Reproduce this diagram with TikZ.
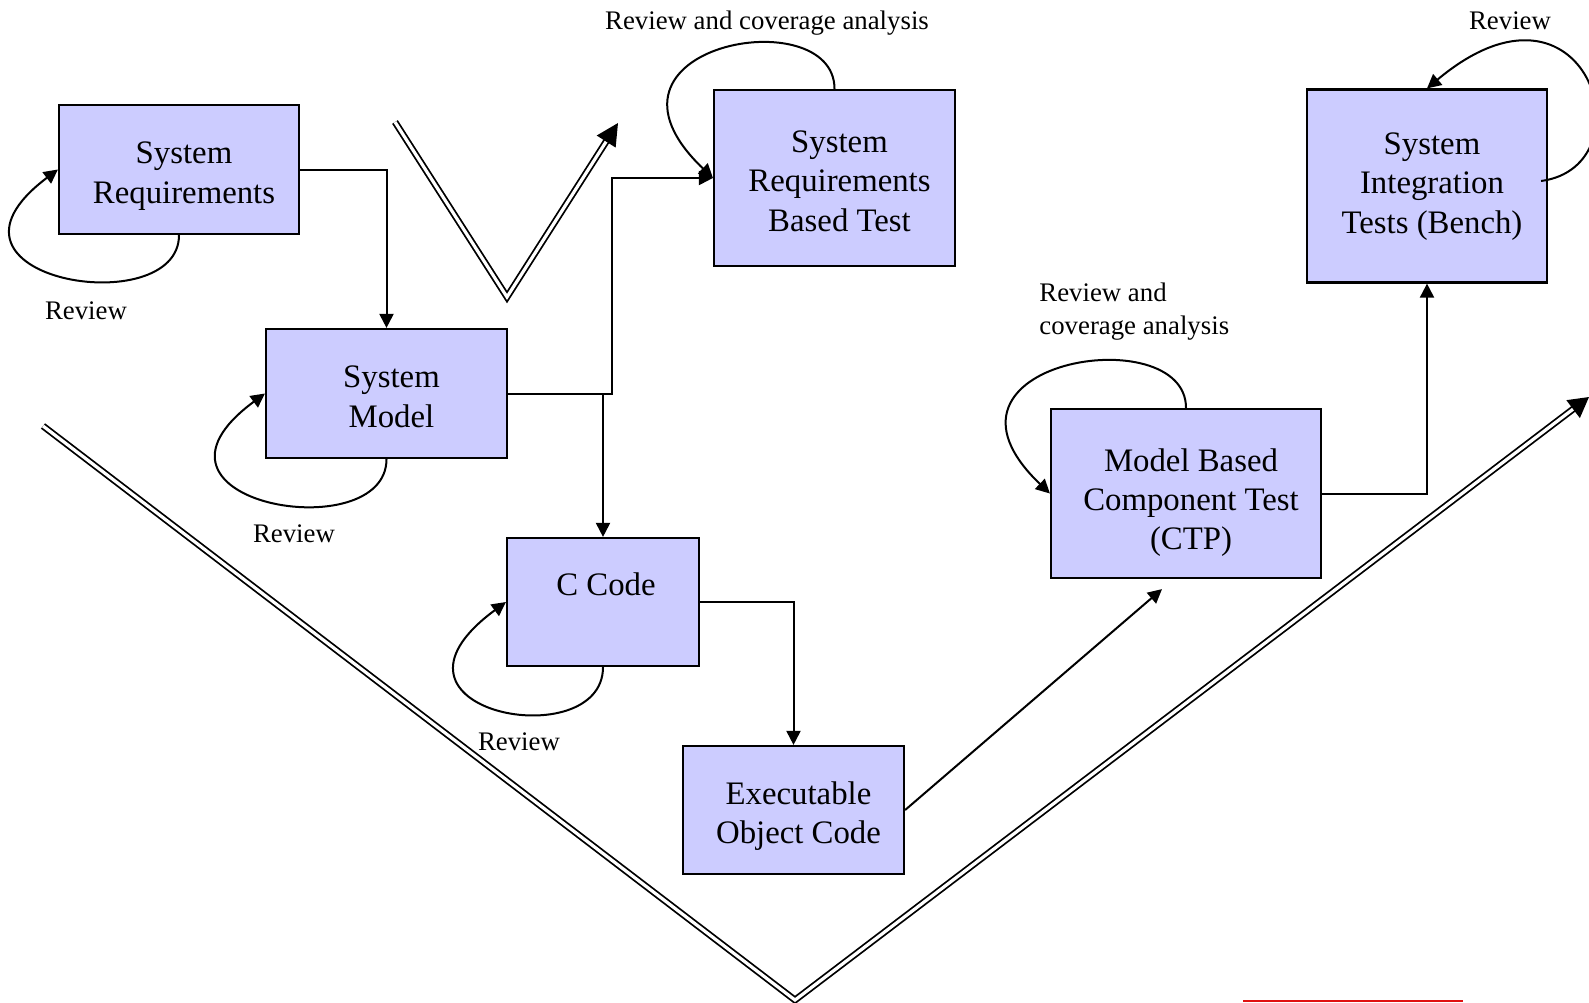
\documentclass[tikz,border=0pt]{standalone}
\usepackage{fontspec}
\setmainfont{Liberation Serif}
\usepackage{tikz}
\usetikzlibrary{
  arrows.meta,
  positioning,
  calc
}
\definecolor{boxfill}{HTML}{CCCCFF}
\definecolor{markred}{HTML}{E01010}
\newcommand{\boxlines}[2][19.8pt]{\begin{tabular}{@{\hspace{5pt}}c@{}}\rule{0pt}{#1}#2\end{tabular}}

\begin{document}
\begin{tikzpicture}[
  x=0.5pt, y=-0.5pt,
  box/.style={draw, line width=1.1pt, fill=boxfill, inner sep=0pt, font=\fontsize{16.4}{19.7}\selectfont},
  lbl/.style={font=\fontsize{13.4}{16.5}\selectfont, inner sep=0pt},
  conn/.style={line width=1pt, -{Triangle[length=7pt,width=7pt]}},
  vee/.style={double, double distance=1.6pt, line width=0.9pt},
]
  \useasboundingbox (0,0) rectangle (1589,1002);

  % V shapes
  \draw[vee, -{Triangle[length=10pt,width=11pt]}] (43,426) -- (795,1000) -- (1589,397);
  \draw[vee, -{Triangle[length=11pt,width=11pt]}] (395,122) -- (507,297) -- (618,123);

  % Boxes
  \node[box, minimum width=120pt, minimum height=64.5pt] (sysreq) at (179,169.5) {\boxlines{System\\Requirements}};
  \node[box, minimum width=120.5pt, minimum height=64.5pt] (sysmodel) at (386.5,393.5) {\boxlines{System\\Model}};
  \node[box, minimum width=96pt, minimum height=64pt, text depth=18pt] (ccode) at (603,602) {\hspace*{3pt}C Code};
  \node[box, minimum width=110.5pt, minimum height=64pt] (eoc) at (793.5,810) {\boxlines{Executable\\Object Code}};
  \node[box, minimum width=120.5pt, minimum height=88pt] (srbt) at (834.5,178) {\boxlines{System\\Requirements\\Based Test}};
  \node[box, minimum width=135pt, minimum height=84.5pt] (mbct) at (1186,493.5) {\boxlines[22.8pt]{Model Based\\Component Test\\(CTP)}};
  \node[box, minimum width=120pt, minimum height=96.5pt] (sit) at (1427,186) {\boxlines[13.8pt]{System\\Integration\\Tests (Bench)}};

  % Flow
  \draw[conn] (sysreq.east) -| (sysmodel.north);
  \draw[conn] (sysmodel.east) -- ++(104,0) |- (srbt.west);
  \draw[conn] (sysmodel.east -| ccode.north) -- (ccode.north);
  \draw[conn] (ccode.east) -| (eoc.north);
  \draw[conn] (eoc.east) -- ([xshift=-12pt,yshift=-5pt]mbct.south);
  \draw[conn] (mbct.east) -| (sit.south);

  % Review loops
  \draw[conn] (sysreq.south) .. controls +(0,88) and +(-146,110) .. (sysreq.west);
  \draw[conn] (sysmodel.south) .. controls +(0,90) and +(-149,110) .. (sysmodel.west);
  \draw[conn] (ccode.south) .. controls +(0,90) and +(-149,110) .. (ccode.west);
  \draw[conn] (srbt.north) .. controls +(0,-90) and +(-139,-133) .. (srbt.west);
  \draw[conn] (mbct.north) .. controls +(0,-90) and +(-139,-133) .. (mbct.west);
  \draw[conn] ([xshift=-3.5pt,yshift=2.5pt]sit.east) .. controls +(110,-15) and +(160,-134) .. (sit.north);

  % Labels
  \node[lbl] (revreq) at (86,311) {Review};
  \node[lbl] (revmodel) at (294,534) {Review};
  \node[lbl] (revc) at (519,742) {Review};
  \node[lbl] (revsrbt) at (767,23) {Review and coverage analysis};
  \node[lbl, align=left, anchor=west] (revmbct) at (1039,312) {Review and\\coverage analysis};
  \node[lbl] (revsit) at (1510,21) {Review};

  % Red mark
  \draw[markred, line width=1.2pt] (1243,1001) -- (1463,1001);
\end{tikzpicture}
\end{document}
